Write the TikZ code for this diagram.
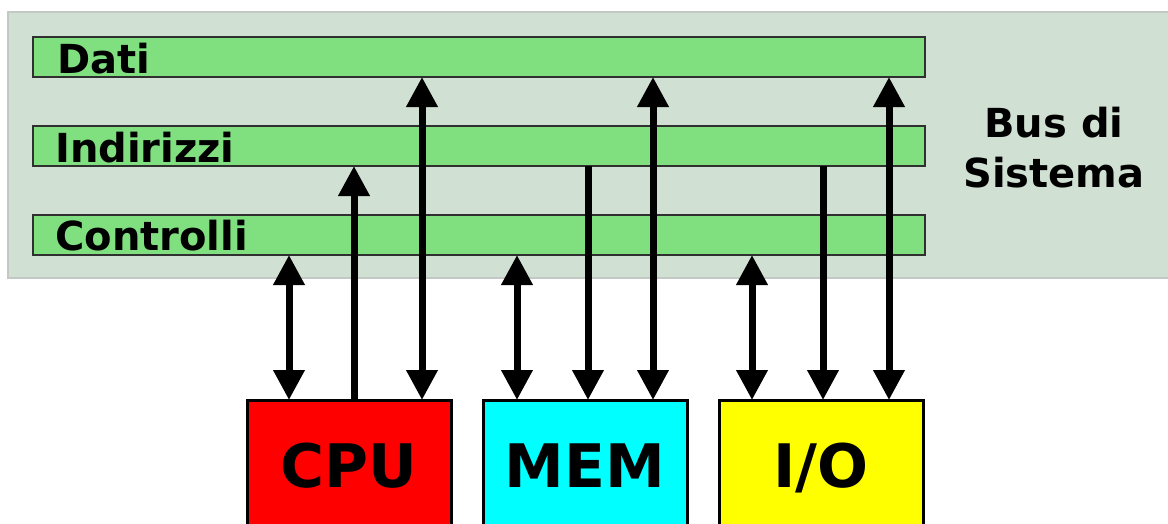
\documentclass[tikz,border=0pt]{standalone}
\usepackage{fontspec}
\setmainfont{DejaVu Sans}
\usetikzlibrary{arrows.meta}
\definecolor{busbg}{HTML}{D0E0D2}
\definecolor{busedge}{HTML}{C4C8C4}
\definecolor{bargreen}{HTML}{80E080}
\definecolor{baredge}{HTML}{303030}
\definecolor{cpured}{HTML}{FF0000}
\definecolor{memcyan}{HTML}{00FFFF}
\definecolor{ioyellow}{HTML}{FFFF00}
\begin{document}
\begin{tikzpicture}[x=1pt,y=-1pt,
  bgbox/.style={draw=busedge,line width=1.5pt,fill=busbg,anchor=north west,inner sep=0pt,outer sep=0pt,minimum width=1180pt,minimum height=266pt},
  bar/.style={draw=baredge,line width=2pt,fill=bargreen,anchor=north west,inner sep=0pt,outer sep=0pt,minimum width=892pt,minimum height=40pt},
  barlabel/.style={anchor=base west,inner sep=0pt,font=\fontsize{40}{48}\selectfont\bfseries},
  buslabel/.style={align=center,inner sep=0pt,font=\fontsize{40}{50}\selectfont\bfseries},
  unit/.style={draw=black,line width=3pt,anchor=north west,inner sep=0pt,outer sep=0pt,minimum width=204pt,minimum height=170pt},
  unitlabel/.style={anchor=base,inner sep=0pt,font=\fontsize{60}{72}\selectfont\bfseries},
  conn/.style={line width=7pt,-{Triangle[width=30pt,length=30pt]}},
  dconn/.style={line width=7pt,{Triangle[width=30pt,length=30pt]}-{Triangle[width=30pt,length=30pt]}}
]
\useasboundingbox (0,0) rectangle (1168,523);
\clip (0,0) rectangle (1168,523);
\node[bgbox] (bg) at (8,12) {};
\node[bar] (dati) at (33,37) {};
\node[bar] (ind) at (33,126) {};
\node[bar] (ctrl) at (33,215) {};
\node[barlabel] (ldati) at (57,73) {Dati};
\node[barlabel] (lind) at (55,162) {Indirizzi};
\node[barlabel] (lctrl) at (55,250) {Controlli};
\node[buslabel] (lbus) at (1054,148) {Bus di\\Sistema};

\node[unit,fill=cpured] (cpu) at (247,400) {};
\node[unit,fill=memcyan] (mem) at (483,400) {};
\node[unit,fill=ioyellow] (io) at (719,400) {};
\node[unitlabel] (lcpu) at (349,487) {CPU};
\node[unitlabel] (lmem) at (585,487) {MEM};
\node[unitlabel] (lio) at (821,487) {I/O};

\coordinate (c1) at (289,0);
\coordinate (a1) at (354,0);
\coordinate (d1) at (422,0);
\coordinate (c2) at (517,0);
\coordinate (a2) at (588,0);
\coordinate (d2) at (653,0);
\coordinate (c3) at (752,0);
\coordinate (a3) at (823,0);
\coordinate (d3) at (889,0);

\draw[dconn] (ctrl.south -| c1) -- (cpu.north -| c1);
\draw[conn] (cpu.north -| a1) -- (ind.south -| a1);
\draw[dconn] (dati.south -| d1) -- (cpu.north -| d1);
\draw[dconn] (ctrl.south -| c2) -- (mem.north -| c2);
\draw[conn] (ind.south -| a2) -- (mem.north -| a2);
\draw[dconn] (dati.south -| d2) -- (mem.north -| d2);
\draw[dconn] (ctrl.south -| c3) -- (io.north -| c3);
\draw[conn] (ind.south -| a3) -- (io.north -| a3);
\draw[dconn] (dati.south -| d3) -- (io.north -| d3);
\end{tikzpicture}
\end{document}
